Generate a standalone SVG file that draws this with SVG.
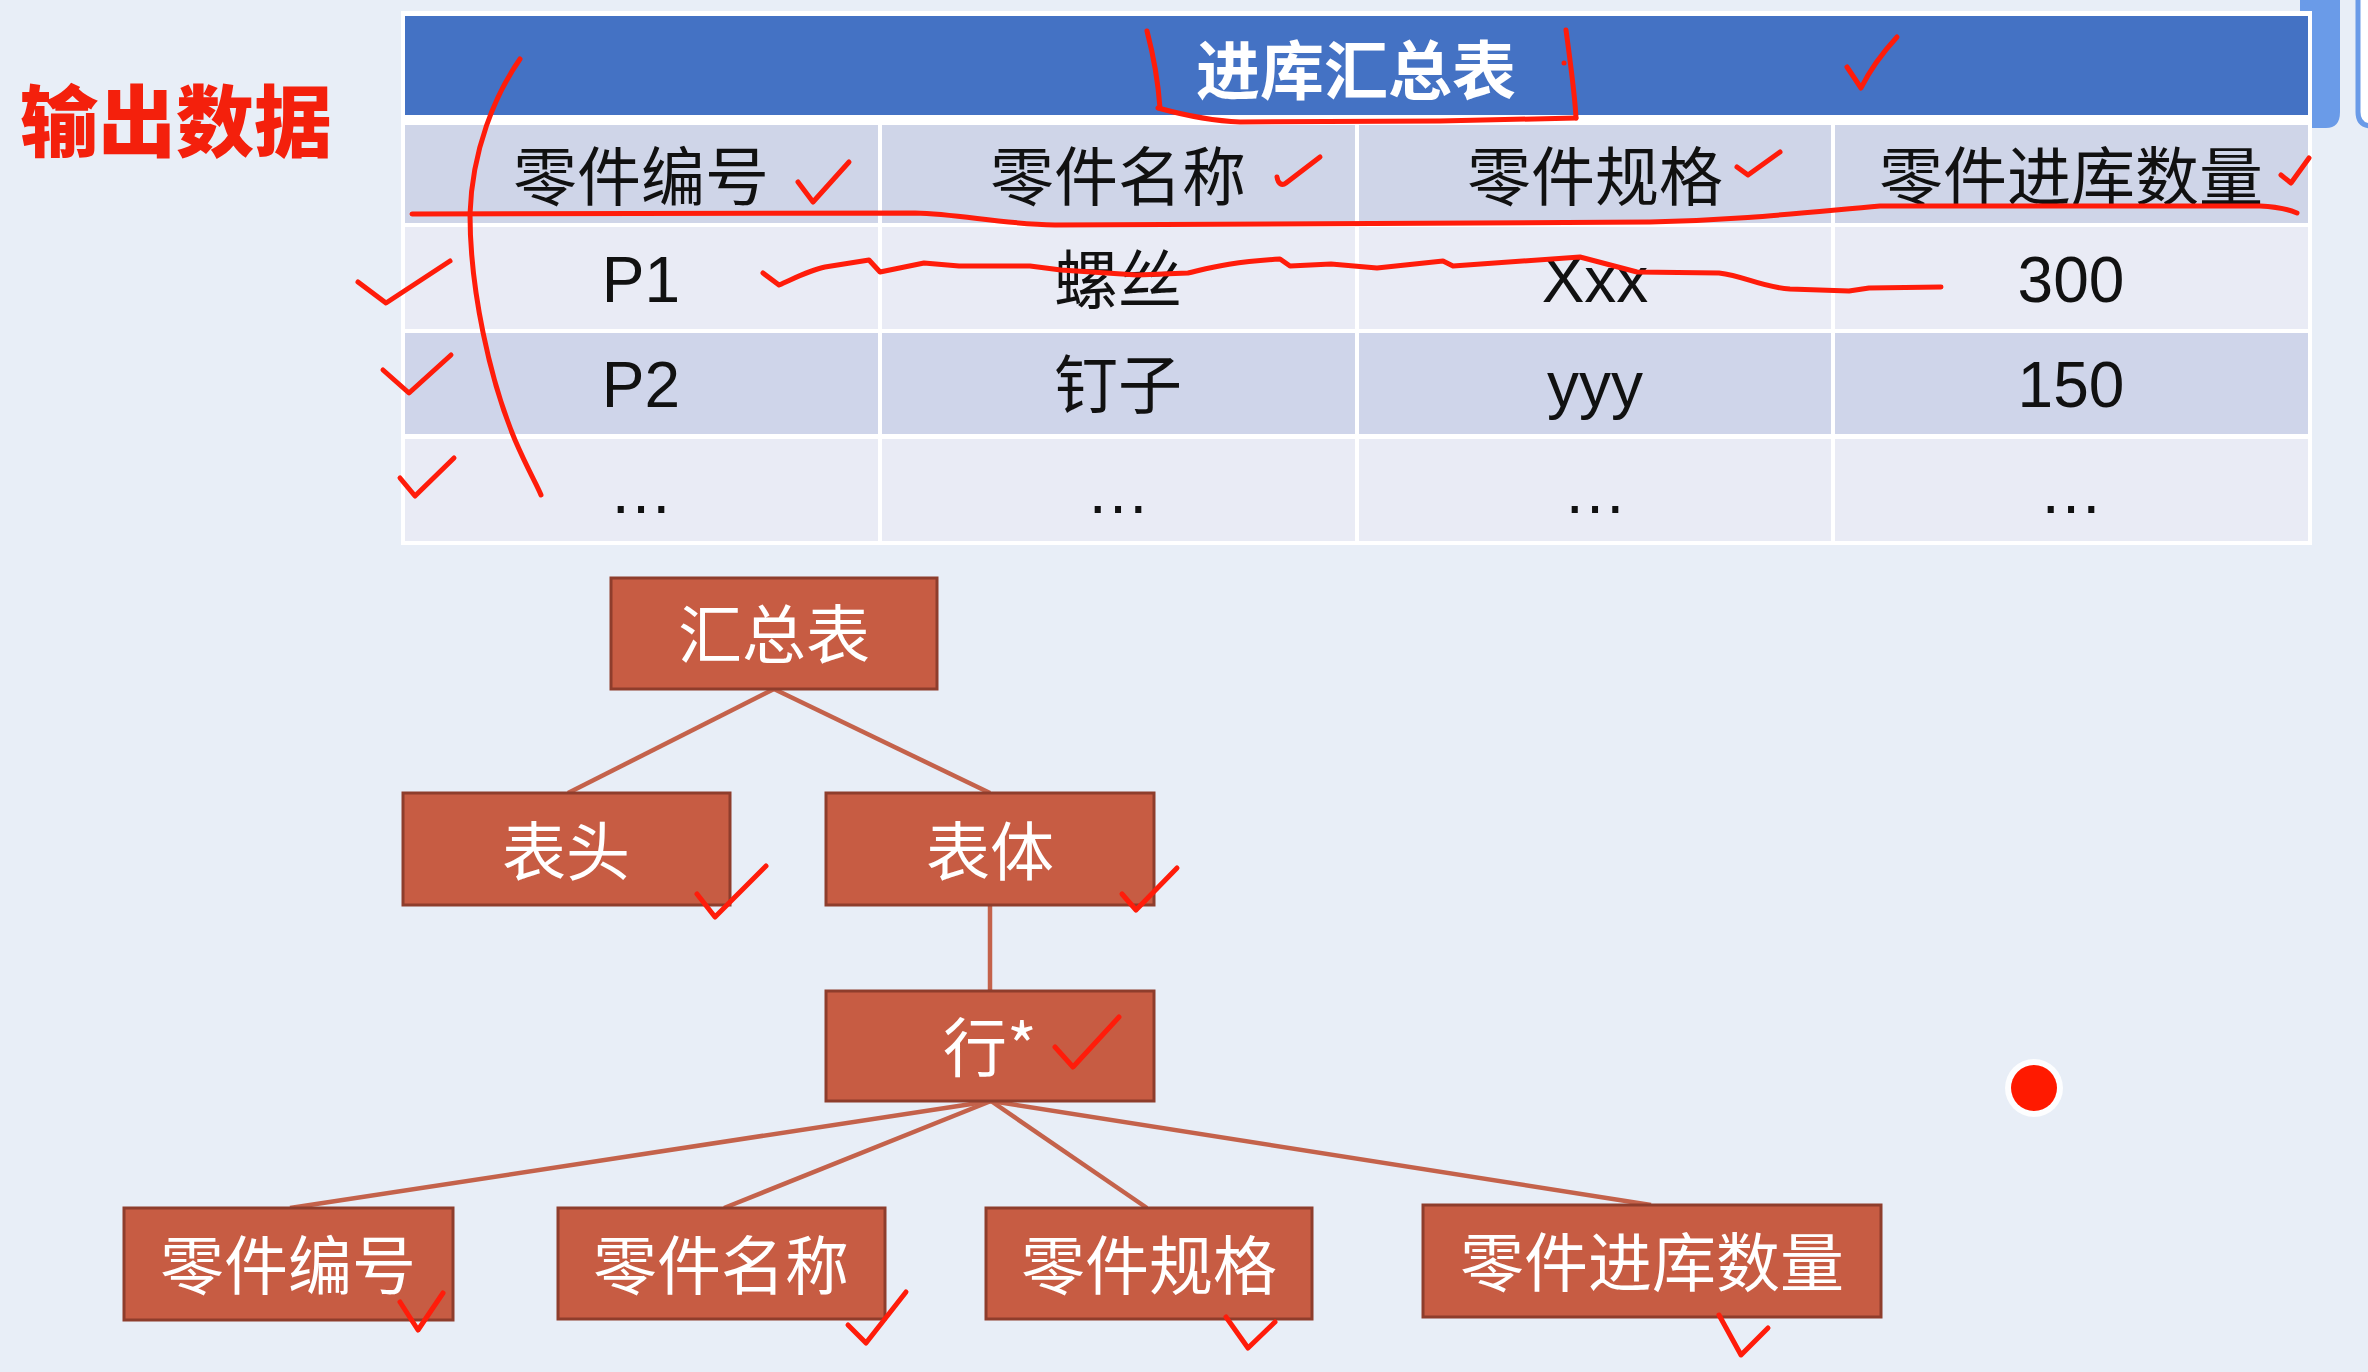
<svg xmlns="http://www.w3.org/2000/svg" width="2368" height="1372" viewBox="0 0 2368 1372">
  <style>
    .cjk { font-family: "Noto Sans CJK SC", "Noto Sans", sans-serif; }
    .lat { font-family: "Liberation Sans", Arial, "Noto Sans CJK SC", sans-serif; }
    .cell { font-size: 64px; fill: #111111; text-anchor: middle; }
    .box rect { fill: #C75C43; stroke: #8E3D2C; stroke-width: 3; }
    .box text { font-size: 64px; fill: #FFFFFF; text-anchor: middle; }
    .link { stroke: #C4624B; stroke-width: 4.5; fill: none; }
    .ink { stroke: #FF1C0A; stroke-width: 5; fill: none; stroke-linecap: round; stroke-linejoin: round; }
  </style>

  <!-- page background -->
  <rect x="0" y="0" width="2368" height="1372" fill="#E8EEF7"/>

  <!-- partial light-blue shapes at the top-right edge -->
  <path d="M2300,0 H2340 V112 Q2340,128 2326,128 H2300 Z" fill="#6A9BE8"/>
  <path d="M2372,-10 H2362 Q2358,-10 2358,0 V112 Q2358,126 2372,126" fill="#FFFFFF" stroke="#6A9BE8" stroke-width="5"/>

  <!-- slide title -->
  <text class="cjk" x="20" y="151" font-size="78" font-weight="900" fill="#F4200C">输出数据</text>

  <!-- summary table -->
  <g id="table">
    <rect x="401" y="11" width="1911" height="534" fill="#FFFFFF"/>
    <rect x="405" y="16" width="1903" height="99" fill="#4472C4"/>
    <text class="cjk" x="1356" y="94" font-size="64" font-weight="bold" fill="#FFFFFF" text-anchor="middle">进库汇总表</text>

    <!-- header row -->
    <g fill="#CFD5E8">
      <rect x="405" y="125" width="473" height="98"/>
      <rect x="882" y="125" width="473" height="98"/>
      <rect x="1359" y="125" width="472" height="98"/>
      <rect x="1835" y="125" width="473" height="98"/>
    </g>
    <!-- body rows -->
    <g fill="#E9EBF5">
      <rect x="405" y="227" width="473" height="102"/>
      <rect x="882" y="227" width="473" height="102"/>
      <rect x="1359" y="227" width="472" height="102"/>
      <rect x="1835" y="227" width="473" height="102"/>
      <rect x="405" y="439" width="473" height="102"/>
      <rect x="882" y="439" width="473" height="102"/>
      <rect x="1359" y="439" width="472" height="102"/>
      <rect x="1835" y="439" width="473" height="102"/>
    </g>
    <g fill="#CFD5EA">
      <rect x="405" y="333" width="473" height="101"/>
      <rect x="882" y="333" width="473" height="101"/>
      <rect x="1359" y="333" width="472" height="101"/>
      <rect x="1835" y="333" width="473" height="101"/>
    </g>

    <g class="cjk cell">
      <text x="641" y="200">零件编号</text>
      <text x="1118" y="200">零件名称</text>
      <text x="1595" y="200">零件规格</text>
      <text x="2071" y="200">零件进库数量</text>
      <text x="1118" y="303">螺丝</text>
      <text x="1118" y="408">钉子</text>
    </g>
    <g class="lat cell">
      <text x="641" y="302">P1</text>
      <text x="641" y="407">P2</text>
      <text x="641" y="513">…</text>
      <text x="1118" y="513">…</text>
      <text x="1595" y="302">Xxx</text>
      <text x="1595" y="407">yyy</text>
      <text x="1595" y="513">…</text>
      <text x="2071" y="302">300</text>
      <text x="2071" y="407">150</text>
      <text x="2071" y="513">…</text>
    </g>
  </g>

  <!-- tree connectors -->
  <g id="connectors">
    <line class="link" x1="774" y1="689" x2="568" y2="793"/>
    <line class="link" x1="774" y1="689" x2="990" y2="793"/>
    <line class="link" x1="990" y1="905" x2="990" y2="991"/>
    <line class="link" x1="991" y1="1101" x2="290" y2="1208"/>
    <line class="link" x1="991" y1="1101" x2="724" y2="1208"/>
    <line class="link" x1="991" y1="1101" x2="1147" y2="1208"/>
    <line class="link" x1="991" y1="1101" x2="1651" y2="1205"/>
  </g>

  <!-- tree nodes -->
  <g id="node-summary" class="box cjk">
    <rect x="611" y="578" width="326" height="111"/>
    <text x="774" y="658">汇总表</text>
  </g>
  <g id="node-head" class="box cjk">
    <rect x="403" y="793" width="327" height="112"/>
    <text x="566" y="875">表头</text>
  </g>
  <g id="node-body" class="box cjk">
    <rect x="826" y="793" width="328" height="112"/>
    <text x="990" y="875">表体</text>
  </g>
  <g id="node-row" class="box cjk">
    <rect x="826" y="991" width="328" height="110"/>
    <text x="990" y="1071">行*</text>
  </g>
  <g id="node-part-no" class="box cjk">
    <rect x="124" y="1208" width="329" height="112"/>
    <text x="288" y="1289">零件编号</text>
  </g>
  <g id="node-part-name" class="box cjk">
    <rect x="558" y="1208" width="327" height="111"/>
    <text x="721" y="1289">零件名称</text>
  </g>
  <g id="node-part-spec" class="box cjk">
    <rect x="986" y="1208" width="326" height="111"/>
    <text x="1149" y="1289">零件规格</text>
  </g>
  <g id="node-part-qty" class="box cjk">
    <rect x="1423" y="1205" width="458" height="112"/>
    <text x="1652" y="1286">零件进库数量</text>
  </g>

  <!-- hand-drawn red pen marks -->
  <g id="pen">
    <!-- bracket down the left of the table -->
    <path class="ink" d="M520,59 C495,95 472,150 470,214 C470,290 490,380 515,440 C528,470 537,485 541,495"/>
    <!-- underline beneath header row -->
    <path class="ink" d="M412,214 L915,213 C960,214 1000,224 1055,225 L1650,222 C1740,220 1800,213 1880,206 L2260,206 C2280,207 2290,210 2297,213"/>
    <!-- box round the title -->
    <path class="ink" d="M1147,31 C1152,50 1158,80 1160,108"/>
    <path class="ink" d="M1158,108 C1180,114 1210,121 1240,122 L1440,121 L1576,118"/>
    <path class="ink" d="M1566,30 C1570,60 1575,95 1576,118"/>
    <circle cx="1564" cy="63" r="2.5" fill="#FF1C0A"/>
    <path class="ink" d="M1847,67 L1861,88 C1870,70 1885,50 1897,37"/>
    <!-- header ticks -->
    <path class="ink" d="M798,182 L813,202 L849,162"/>
    <path class="ink" d="M1277,177 C1278,184 1282,186 1286,183 L1320,157"/>
    <path class="ink" d="M1737,167 L1748,175 L1780,152"/>
    <path class="ink" d="M2281,175 L2291,183 L2309,158"/>
    <!-- row ticks -->
    <path class="ink" d="M358,282 L386,303 L450,261"/>
    <path class="ink" d="M383,370 L409,393 L451,355"/>
    <path class="ink" d="M400,478 L415,496 L454,458"/>
    <!-- wavy line across the first row -->
    <path class="ink" d="M763,273 L779,285 C795,278 810,270 825,267 L869,260 L880,272 L924,263 L959,266 L1030,266 L1061,270 L1137,275 L1188,273 C1210,268 1230,262 1280,259 L1290,266 L1331,264 L1377,268 L1443,261 L1453,266 L1580,257 L1637,272 L1719,273 C1745,276 1760,287 1790,289 L1849,291 L1869,288 L1941,287"/>
    <!-- tree ticks -->
    <path class="ink" d="M697,894 L715,917 L766,866"/>
    <path class="ink" d="M1122,894 L1136,910 L1177,868"/>
    <path class="ink" d="M1055,1047 L1073,1067 L1119,1017"/>
    <path class="ink" d="M400,1302 L418,1330 L443,1293"/>
    <path class="ink" d="M848,1325 L866,1343 L906,1292"/>
    <path class="ink" d="M1226,1317 L1248,1348 L1275,1322"/>
    <path class="ink" d="M1719,1315 L1741,1355 L1768,1328"/>
  </g>

  <!-- pointer dot -->
  <g id="pointer">
    <circle cx="2034" cy="1088" r="29" fill="#FFFFFF" opacity="0.9"/>
    <circle cx="2034" cy="1088" r="23" fill="#FF1A00"/>
  </g>
</svg>
